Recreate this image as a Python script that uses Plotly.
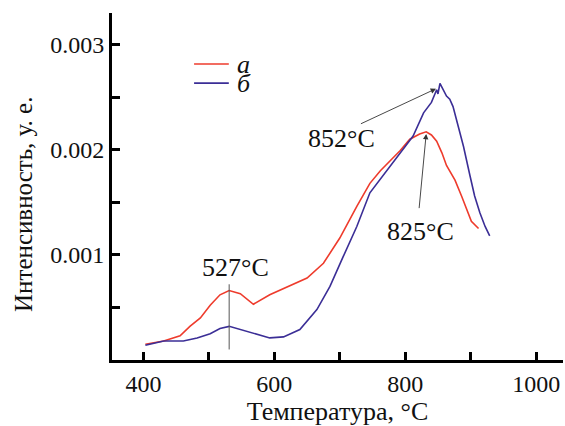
import plotly.graph_objects as go

# ---- data ----
temp_a = [403, 431, 456, 466, 471, 487, 502, 517, 531, 548, 568, 593, 624, 650, 675,
          700, 726, 746, 762, 780, 792, 807, 822, 832, 840, 848, 856, 863, 876, 886,
          894, 901, 912]
int_a = [0.00015, 0.00018, 0.00023, 0.00029, 0.00032, 0.00040, 0.00052, 0.00062, 0.00066,
         0.00063, 0.00053, 0.00062, 0.00071, 0.00078, 0.00092,
         0.00116, 0.00146, 0.00168, 0.00180, 0.00191, 0.00199, 0.00210, 0.00215, 0.00217,
         0.00214, 0.00208, 0.00197, 0.00185, 0.00171, 0.00156,
         0.00143, 0.00132, 0.00125]

temp_b = [403, 431, 461, 482, 502, 517, 531, 548, 573, 593, 614, 639, 665, 685,
          705, 726, 746, 777, 792, 812, 828, 840, 848, 850, 853, 858, 863, 868, 873,
          881, 889, 899, 906, 914, 922, 929]
int_b = [0.00014, 0.00018, 0.00018, 0.00021, 0.00025, 0.00030, 0.00032, 0.00029, 0.00024,
         0.00021, 0.00022, 0.00029, 0.00048, 0.00070,
         0.00098, 0.00127, 0.00159, 0.00184, 0.00197, 0.00213, 0.00235, 0.00245, 0.00257,
         0.00253, 0.00263, 0.00257, 0.00251, 0.00248, 0.00241,
         0.00222, 0.00203, 0.00175, 0.00156, 0.00140, 0.00127, 0.00118]

series_names = ["а", "б"]
x_ticks = [400, 500, 600, 700, 800, 900, 1000]
x_ticklabels = ["400", "", "600", "", "800", "", "1000"]
y_ticks = [0.0005, 0.001, 0.0015, 0.002, 0.0025, 0.003]
y_ticklabels = ["", "0.001", "", "0.002", "", "0.003"]

peak_labels = ["527°C", "852°C", "825°C"]

RED = "#EE3B2C"
BLUE = "#3B2E96"
FONT = "Liberation Serif, Times New Roman, serif"
TXT = "#111111"

fig = go.Figure()
fig.add_trace(go.Scatter(x=temp_a, y=int_a, mode="lines", name=series_names[0],
                         line=dict(color=RED, width=1.6), showlegend=False))
fig.add_trace(go.Scatter(x=temp_b, y=int_b, mode="lines", name=series_names[1],
                         line=dict(color=BLUE, width=1.6), showlegend=False))

# peak markers / annotations
ia = int_a.index(max(int_a[:12]))
pa_x, pa_y = temp_a[ia], int_a[ia]
ib = int_b.index(max(int_b))
pb_x, pb_y = temp_b[ib], int_b[ib]
ic = int_a.index(max(int_a))
pc_x, pc_y = temp_a[ic], int_a[ic]

fig.add_shape(type="line", x0=pa_x, x1=pa_x, y0=0.0001, y1=pa_y + 0.00006,
              line=dict(color="#555555", width=1))
fig.add_annotation(x=pa_x + 10, y=pa_y + 0.00022, text=peak_labels[0], showarrow=False,
                   font=dict(family=FONT, size=26, color=TXT))

fig.add_annotation(x=pb_x - 6, y=pb_y - 0.00005, ax=730, ay=0.00224, axref="x", ayref="y",
                   text="", showarrow=True, arrowhead=2, arrowsize=1.2, arrowwidth=0.9,
                   arrowcolor="#333333")
fig.add_annotation(x=703, y=0.00211, text=peak_labels[1], showarrow=False,
                   font=dict(family=FONT, size=26, color=TXT))

fig.add_annotation(x=pc_x, y=pc_y - 0.00002, ax=821, ay=0.00143, axref="x", ayref="y",
                   text="", showarrow=True, arrowhead=2, arrowsize=1.2, arrowwidth=0.9,
                   arrowcolor="#333333")
fig.add_annotation(x=824, y=0.00122, text=peak_labels[2], showarrow=False,
                   font=dict(family=FONT, size=26, color=TXT))

# manual legend
for i, (col, yy) in enumerate([(RED, 0.853), (BLUE, 0.798)]):
    fig.add_shape(type="line", xref="paper", yref="paper", x0=0.182, x1=0.259, y0=yy, y1=yy,
                  line=dict(color=col, width=1.6))
    fig.add_annotation(xref="paper", yref="paper", x=0.272, y=yy, xanchor="left",
                       yanchor="middle", height=18,
                       text="<i>" + series_names[i] + "</i>", showarrow=False,
                       font=dict(family=FONT, size=26, color=TXT))

# y-axis title (placed as in the reference, off-centre)
fig.add_annotation(xref="paper", yref="paper", x=-0.195, y=0.447, textangle=-90,
                   xanchor="center", yanchor="middle",
                   text="Интенсивность, у. е.", showarrow=False,
                   font=dict(family=FONT, size=25, color=TXT))

axis_common = dict(showline=True, linecolor="black", linewidth=3, ticks="inside",
                   ticklen=8, tickwidth=2.5, tickcolor="black", showgrid=False,
                   zeroline=False, mirror=False,
                   tickfont=dict(family=FONT, size=24, color=TXT))

fig.update_xaxes(range=[352, 1041], tickmode="array", tickvals=x_ticks,
                 ticktext=x_ticklabels,
                 title=dict(text="Температура, °C", standoff=2,
                            font=dict(family=FONT, size=26, color=TXT)),
                 **axis_common)
fig.update_yaxes(range=[0, 0.0033], tickmode="array", tickvals=y_ticks,
                 ticktext=y_ticklabels, **axis_common)

fig.update_layout(width=565, height=426, autosize=False,
                  margin=dict(l=112, r=2, t=13, b=66, autoexpand=False),
                  plot_bgcolor="white", paper_bgcolor="white", showlegend=False)

fig.write_html("out.html")
